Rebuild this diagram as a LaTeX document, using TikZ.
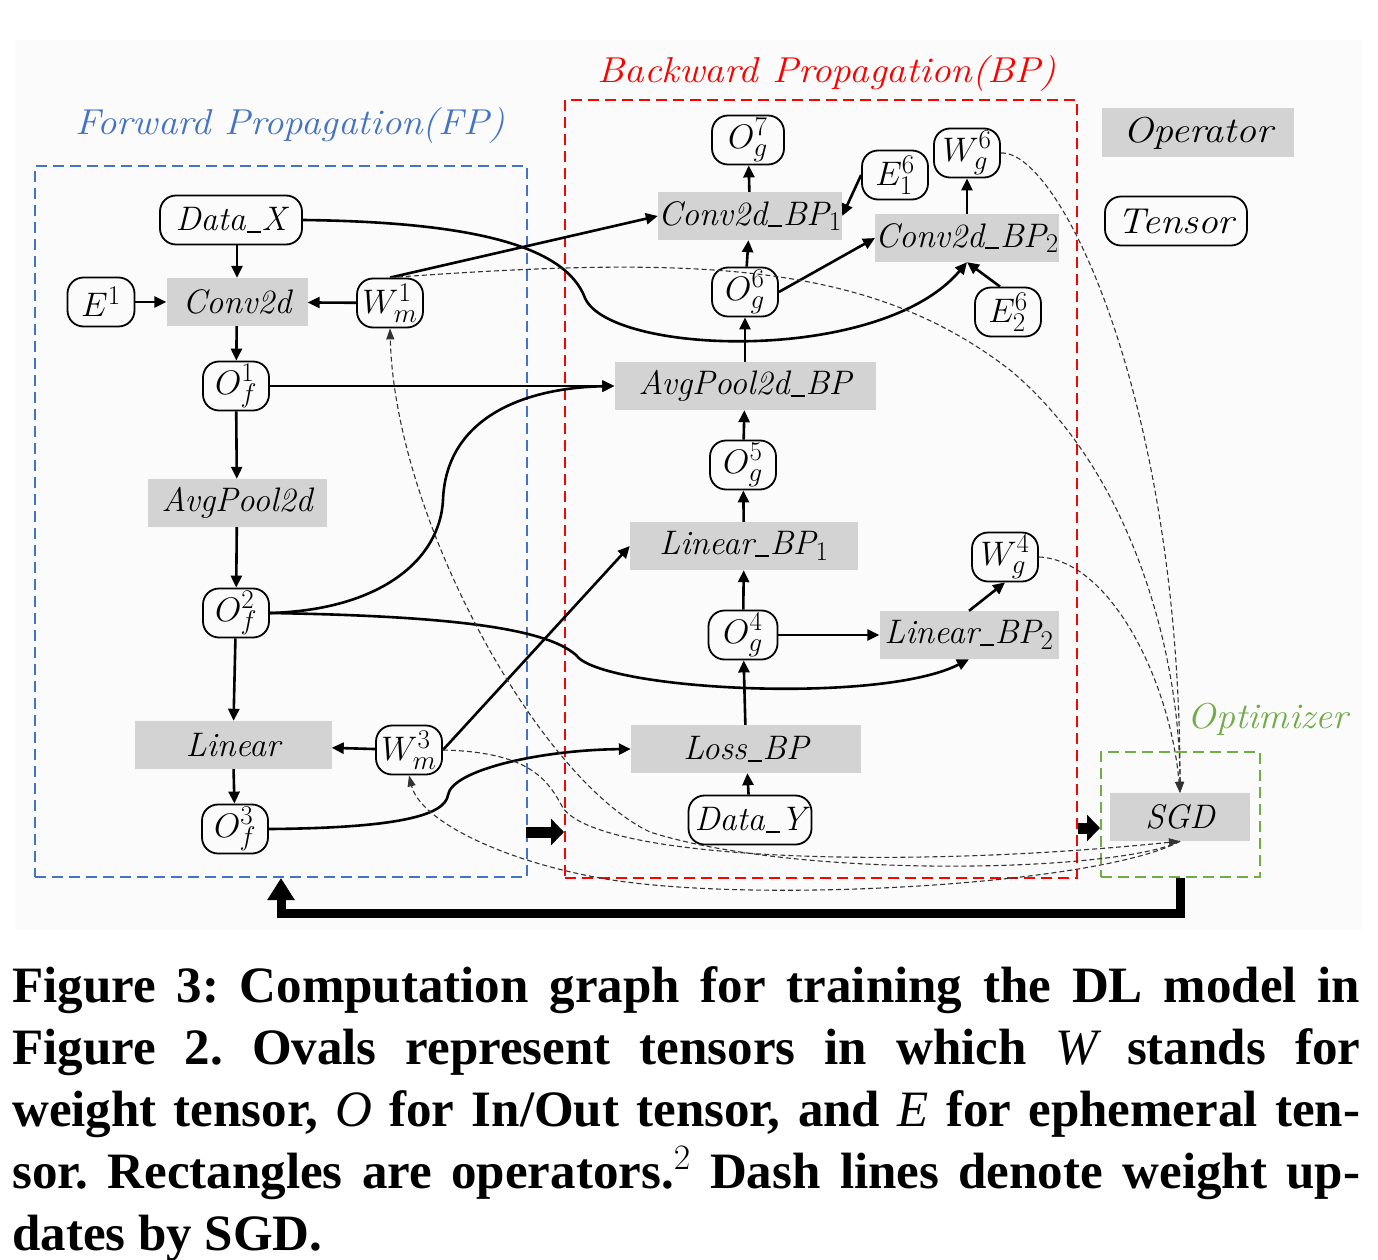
\RequirePackage{fix-cm}
\documentclass[tikz,border=0pt]{standalone}
\usepackage{fontspec}
\newfontfamily\capfont{Liberation Serif}
\usetikzlibrary{arrows.meta,calc}
\definecolor{opgray}{RGB}{211,211,211}
\definecolor{fpblue}{RGB}{68,114,196}
\definecolor{bpred}{RGB}{255,0,0}
\definecolor{optgreen}{RGB}{112,173,71}
\DeclareMathSizes{34}{34}{27}{20}
\newcommand\us{\kern1pt\rule[-2pt]{14pt}{1.7pt}\kern1pt}
\newcommand\widen[2]{\scalebox{#1}[1]{#2}}
\begin{document}
\begin{tikzpicture}[x=1pt,y=-1pt,
  lab/.style={font=\fontsize{34}{40}\selectfont\itshape},
  wide/.style={font=\fontsize{36}{40}\selectfont\itshape},
  op/.style={fill=opgray, minimum height=48pt, inner sep=0pt, lab},
  ten/.style={draw, line width=1.8pt, rounded corners=16pt, minimum width=66pt, minimum height=49pt, inner sep=0pt, lab},
  arr/.style={line width=2.6pt, -{Triangle[length=12pt,width=11pt]}},
  dsh/.style={line width=1.1pt, dash pattern=on 5pt off 3pt, black!80, -{Triangle[length=11pt,width=8pt]}},
  area/.style={line width=2pt, dash pattern=on 11pt off 6pt, inner sep=0pt},
  fat/.style={line width=11pt, -{Triangle[length=13pt,width=26pt]}},
]
\useasboundingbox (0,0) rectangle (1378,1260);
\fill[black!1.5] (15,40) rectangle (1362,930);

% areas
\node[area, draw=fpblue, minimum width=492pt, minimum height=711pt] (fp) at (281,521.5) {};
\node[area, draw=bpred, minimum width=512pt, minimum height=778pt] (bp) at (821,489) {};
\node[area, draw=optgreen, minimum width=159pt, minimum height=125pt] (opt) at (1180.5,814.5) {};

\node[wide, text=fpblue, anchor=base] (fpt) at (290,135) {\widen{1.08}{Forward Propagation(FP)}};
\node[wide, text=bpred, anchor=base] (bpt) at (827,83) {\widen{1.09}{Backward Propagation(BP)}};
\node[wide, text=optgreen, anchor=base] (optt) at (1268,728) {\widen{1.05}{Optimizer}};

% FP
\node[ten, minimum width=142pt] (datax) at (231,220) {Data\us X};
\node[ten, minimum width=67pt] (e1) at (101,302) {$E^1$};
\node[op, minimum width=141pt] (conv) at (237,302) {Conv2d};
\node[ten] (wm1) at (390,303) {$W_m^1$};
\node[ten] (of1) at (236,386) {$O_f^1$};
\node[op, minimum width=179pt] (pool) at (237,503) {AvgPool2d};
\node[ten] (of2) at (236,613) {$O_f^2$};
\node[op, minimum width=197pt] (lin) at (233,745) {Linear};
\node[ten] (wm3) at (409,750) {$W_m^3$};
\node[ten] (of3) at (235,829) {$O_f^3$};

% BP
\node[ten, minimum width=72pt] (og7) at (748,140) {$O_g^7$};
\node[op, minimum width=184pt] (cbp1) at (750,216) {Conv2d\us BP$_1$};
\node[ten] (e16) at (895,175) {$E_1^6$};
\node[ten] (wg6) at (967,153) {$W_g^6$};
\node[op, minimum width=183pt] (cbp2) at (967,238) {Conv2d\us BP$_2$};
\node[ten] (og6) at (745,292) {$O_g^6$};
\node[ten] (e26) at (1008,312) {$E_2^6$};
\node[op, minimum width=261pt] (pbp) at (745,386) {AvgPool2d\us BP};
\node[ten] (og5) at (743,465) {$O_g^5$};
\node[op, minimum width=228pt] (lbp1) at (744,546) {Linear\us BP$_1$};
\node[ten] (wg4) at (1005,557) {$W_g^4$};
\node[ten, minimum width=69pt] (og4) at (743,635) {$O_g^4$};
\node[op, minimum width=179pt] (lbp2) at (969,635) {Linear\us BP$_2$};
\node[op, minimum width=230pt] (loss) at (746,749) {Loss\us BP};
\node[ten, minimum width=123pt] (datay) at (750,820) {Data\us Y};

% legend & optimizer
\node[op, wide, minimum width=192pt, minimum height=49pt] (legop) at (1198,133) {\widen{1.11}{Operator}};
\node[ten, wide, minimum width=142pt] (legten) at (1176,221) {\widen{1.1}{Tensor}};
\node[op, minimum width=140pt] (sgd) at (1180,817) {SGD};

% FP arrows
\draw[arr] (conv.north |- datax.south) -- (conv.north);
\draw[arr] (e1) -- (conv);
\draw[arr] (wm1) -- (conv);
\draw[arr] (conv) -- (of1);
\draw[arr] (of1) -- (pool);
\draw[arr] (pool) -- (of2);
\draw[arr] (of2) -- (lin);
\draw[arr] (wm3) -- (lin);
\draw[arr] (lin) -- (of3);

% cross arrows
\draw[arr] (datax.east) .. controls (470,222) and (565,245) .. (585,298) .. controls (610,355) and (880,365) .. (cbp2.south);
\draw[arr] (wm1.north) -- (cbp1.west);
\draw[arr] (of1.east) -- (pbp.west);
\draw[arr] (of2.east) .. controls (380,610) and (440,560) .. (443,500) .. controls (446,420) and (520,388) .. (pbp.west);
\draw[arr] (of2.east) .. controls (450,616) and (545,628) .. (576,655) .. controls (600,690) and (880,705) .. (lbp2.south);
\draw[arr] (wm3.east) -- (lbp1.west);
\draw[arr] (of3.east) .. controls (400,828) and (445,815) .. (448,795) .. controls (452,770) and (540,750) .. (loss.west);

% BP arrows
\draw[arr] (datay) -- (loss);
\draw[arr] (loss) -- (og4);
\draw[arr] (og4) -- (lbp1);
\draw[arr] (og4) -- (lbp2);
\draw[arr] (lbp2.north) -- (wg4.south);
\draw[arr] (lbp1) -- (og5);
\draw[arr] (og5) -- (pbp);
\draw[arr] (pbp) -- (og6);
\draw[arr] (og6) -- (cbp1);
\draw[arr] (og6.east) -- (cbp2.west);
\draw[arr] (cbp1) -- (og7);
\draw[arr] (e16.west) -- (cbp1.east);
\draw[arr] ($(e26.north)+(-8,0)$) -- (cbp2.south);
\draw[arr] (cbp2) -- (wg6);

% dashed weight updates
\draw[dsh] (wm1.north) .. controls (700,255) and (870,262) .. (1010,370) .. controls (1130,470) and (1180,650) .. (sgd.north);
\draw[dsh] (wg6.east) .. controls (1060,150) and (1180,400) .. (sgd.north);
\draw[dsh] (wg4.east) .. controls (1110,560) and (1170,680) .. (sgd.north);
\draw[dsh] (sgd.south) .. controls (1120,872) and (800,880) .. (650,832) .. controls (540,780) and (395,520) .. (wm1.south);
\draw[dsh] (sgd.south) .. controls (1100,885) and (750,905) .. (600,878) .. controls (500,860) and (420,820) .. (wm3.south);
\draw[dsh] (wm3.east) .. controls (530,752) and (548,780) .. (563,808) .. controls (600,860) and (900,870) .. (sgd.south);

% fat arrows
\coordinate (a1) at (526,832);
\draw[fat] (a1) -- (a1 -| bp.west);
\coordinate (a2) at (1078,828);
\draw[fat] (a2) -- (a2 -| opt.west);
\draw[line width=9pt, line join=miter, -{Triangle[length=22pt,width=26pt]}] (opt.south) -- ++(0,35) -| (fp.south);

% caption
\node[anchor=north west, inner sep=0pt, text width=1348pt, align=justify, font=\capfont\bfseries\fontsize{51}{62}\selectfont\frenchspacing] (cap) at (12,966) {Figure 3: Computation graph for training the DL model in\linebreak Figure 2. Ovals represent tensors in which {\mdseries\itshape W} stands for\linebreak weight tensor, {\mdseries\itshape O} for In/Out tensor, and {\mdseries\itshape E} for ephemeral ten-\linebreak sor. Rectangles are operators.$^{2}$ Dash lines denote weight up-\linebreak dates by SGD.};
\end{tikzpicture}
\end{document}
